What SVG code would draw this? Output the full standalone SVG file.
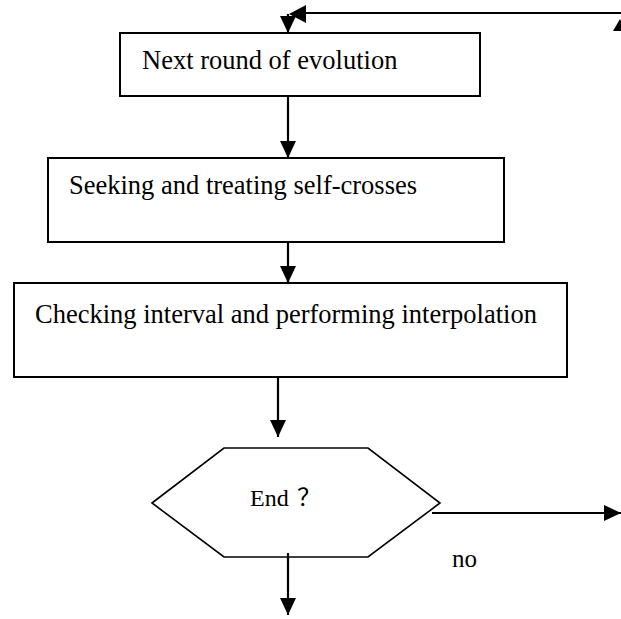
<svg xmlns="http://www.w3.org/2000/svg" width="621" height="619" viewBox="0 0 621 619">
<style>
.box{fill:#fff;stroke:#000;stroke-width:2}
.hex{fill:#fff;stroke:#000;stroke-width:1.6}
.lbl{font-family:"Liberation Serif","Times New Roman","Noto Sans CJK SC",serif;font-size:26.5px;fill:#000}
.con{fill:none;stroke:#000;stroke-width:2.2}
.head{fill:#000}
</style>
<defs>
<marker id="arr" markerUnits="userSpaceOnUse" markerWidth="17" markerHeight="16" refX="17" refY="8" orient="auto">
<path d="M0,0 L17,8 L0,16 z" fill="#000"/>
</marker>
</defs>
<g id="node-next">
<rect class="box" x="120" y="33" width="360" height="63"/>
<text class="lbl" x="142" y="69">Next round of evolution</text>
</g>
<g id="node-seek">
<rect class="box" x="48" y="158" width="456" height="84"/>
<text class="lbl" x="69" y="194">Seeking and treating self-crosses</text>
</g>
<g id="node-end">
<polygon class="hex" points="152,503 224,448 368,448 440,503 368,557 224,557"/>
<text class="lbl" x="250" y="506" style="font-size:24px">End<tspan x="297">？</tspan></text>
</g>
<g id="node-check">
<rect class="box" x="14" y="283" width="553" height="94"/>
<text class="lbl" x="35" y="323">Checking interval and performing interpolation</text>
</g>
<g id="label-no">
<text class="lbl" x="452" y="567" style="font-size:25px">no</text>
</g>
<g id="connectors">
<path class="con" d="M621,13 L305,13"/>
<path class="head" d="M289,14 L306,5 L306,23 z"/>
<path class="con" d="M288,14 L288,33" marker-end="url(#arr)"/>
<path class="head" d="M620,19 L613,31 L627,31 z"/>
<path class="con" d="M288,96 L288,158" marker-end="url(#arr)"/>
<path class="con" d="M288,242 L288,283" marker-end="url(#arr)"/>
<path class="con" d="M278,377 L278,437" marker-end="url(#arr)"/>
<path class="con" d="M432,513 L621,513" marker-end="url(#arr)"/>
<path class="con" d="M288,553 L288,615" marker-end="url(#arr)"/>
</g>
</svg>
